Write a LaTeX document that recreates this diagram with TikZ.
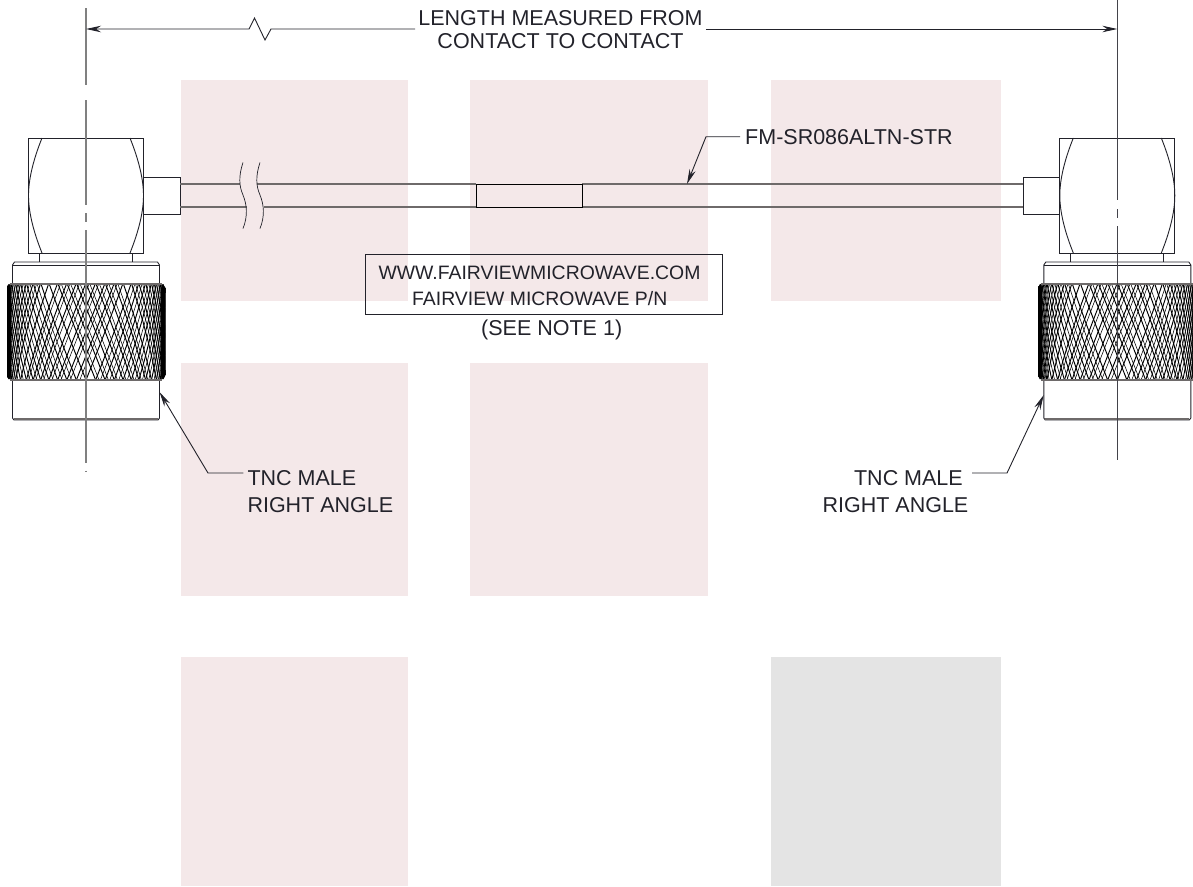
\documentclass[tikz,border=0pt]{standalone}
\usepackage{fontspec}
\setmainfont{Liberation Sans}
\usetikzlibrary{arrows.meta}
\definecolor{pinkbg}{HTML}{F4E8E9}
\definecolor{graybg}{HTML}{E4E4E4}
\definecolor{ink}{HTML}{22222A}
\definecolor{cline}{HTML}{6E6A6A}
\tikzset{
  zone/.style={fill=pinkbg,draw=none},
  outline/.style={draw=ink,line width=0.9pt},
  cableline/.style={draw=cline,line width=1.5pt},
  knurlline/.style={draw=black,line width=0.95pt},
  knurlfine/.style={draw=black,line width=0.55pt},
  leader/.style={draw=ink,line width=0.9pt},
  lead arrow/.style={leader,-{Stealth[length=15pt,width=6.5pt]}},
  label/.style={inner sep=0pt,text=ink,font=\fontsize{21.5}{23}\selectfont,anchor=base},
  boxlabel/.style={label,font=\fontsize{19.4}{21}\selectfont},
}
\newcommand{\connbody}[1]{%
\begin{scope}[xshift=#1pt]
  % housing
  \draw[outline] (-57.5,138) rectangle (57.5,253);
  \draw[outline] (-44,138) .. controls (-52,158) and (-57.5,178) .. (-57.5,195.5) .. controls (-57.5,213) and (-52,233) .. (-44,253);
  \draw[outline] (44,138) .. controls (52,158) and (57.5,178) .. (57.5,195.5) .. controls (57.5,213) and (52,233) .. (44,253);
  \draw[outline] (-46.5,253) -- (-46.5,262);
  \draw[outline] (46.5,253) -- (46.5,262);
  % flange
  \draw[outline] (-73.5,283) -- (-73.5,265) -- (-71.5,262) -- (71.5,262) -- (73.5,265) -- (73.5,283);
  \draw[outline] (-73.5,265) -- (73.5,265);
  % lower sleeve
  \draw[outline] (-73.5,380) -- (-73.5,418) -- (-72,420) -- (72,420) -- (73.5,418) -- (73.5,380);
  \draw[draw=cline,line width=1.8pt] (-72,419) -- (72,419);
  % knurl
  \begin{scope}
    \clip[rounded corners=5pt] (-79,283) rectangle (79,380);
    \foreach \p in {-119,-112,...,119} {
      \draw[knurlline] plot[domain=0:1,samples=6] ({79*sin(max(-90,min(90,\p+28*\x)))},{283+97*\x});
      \draw[knurlline] plot[domain=0:1,samples=6] ({79*sin(max(-90,min(90,\p-28*\x)))},{283+97*\x});
    }
    \foreach \p in {-22,-15,...,22} {
      \draw[knurlfine] plot[domain=0:1,samples=6] ({79*sin(\p+3.5+28*\x)},{283+97*\x});
      \draw[knurlfine] plot[domain=0:1,samples=6] ({79*sin(\p+3.5-28*\x)},{283+97*\x});
    }
    \foreach \p in {35,42,...,119} {
      \draw[knurlfine] plot[domain=0:1,samples=6] ({79*sin(max(-90,min(90,\p+3.5+28*\x)))},{283+97*\x});
      \draw[knurlfine] plot[domain=0:1,samples=6] ({79*sin(max(-90,min(90,\p+3.5-28*\x)))},{283+97*\x});
      \draw[knurlfine] plot[domain=0:1,samples=6] ({-79*sin(max(-90,min(90,\p+3.5+28*\x)))},{283+97*\x});
      \draw[knurlfine] plot[domain=0:1,samples=6] ({-79*sin(max(-90,min(90,\p+3.5-28*\x)))},{283+97*\x});
    }
  \end{scope}
  \draw[draw=cline,line width=1.6pt] (-76,284) -- (76,284);
  \draw[draw=cline,line width=1.4pt] (-76,380) -- (76,380);
  \fill[black,rounded corners=3pt] (-79,285) rectangle (-75,379);
  \fill[black,rounded corners=3pt] (75,285) rectangle (79,379);
\end{scope}}
\begin{document}
\begin{tikzpicture}[x=1pt,y=-1pt]
\useasboundingbox (0,0) rectangle (1193,886);
% background zones
\fill[zone] (181,80) rectangle (408,301);
\fill[zone] (470,80) rectangle (708,301);
\fill[zone] (771,80) rectangle (1001,301);
\fill[zone] (181,363) rectangle (408,596);
\fill[zone] (470,363) rectangle (708,596);
\fill[zone] (181,657) rectangle (408,886);
\fill[graybg] (771,657) rectangle (1001,886);

% connectors
\connbody{86}
\connbody{1117.3}

% stubs
\draw[outline] (143.5,177) -- (180,177) -- (180,214) -- (143.5,214);
\draw[outline] (1059.8,177) -- (1023,177) -- (1023,214) -- (1059.8,214);

% cable
\draw[cableline,line width=1.1pt] (180,184) -- (240,184);
\draw[cableline] (180,207) -- (246.5,207);
\draw[cableline,line width=1.1pt] (257,184) -- (476,184);
\draw[cableline] (263.5,207) -- (476,207);
\draw[cableline,line width=1.1pt] (582,184) -- (1023,184);
\draw[cableline] (582,207) -- (1023,207);
\draw[draw=black,line width=1pt] (476,184) rectangle (582,207);
\foreach \d in {0,17}{
  \draw[outline,line width=0.7pt,xshift=\d pt] (243,162.5) .. controls (238.5,176) and (239,186) .. (243,195) .. controls (247,205) and (248,216) .. (243,228.5);
}

% centre lines
\foreach \a/\b in {8/85,100/205,213/222,230/463,470.5/471.5}{
  \draw[draw=gray,line width=1.4pt] (86,\a) -- (86,\b);
}
\foreach \a/\b in {0/200,209/218,226/460}{
  \draw[draw=ink!85!white,line width=1pt] (1117.3,\a) -- (1117.3,\b);
}

% texts
\node[label] (len1) at (560.5,25) {LENGTH MEASURED FROM};
\node[label] (len2) at (560.5,48) {CONTACT TO CONTACT};
\node[label,anchor=base west] (cab) at (745,144.5) {FM-SR086ALTN-STR};
\node[boxlabel] (www) at (539.5,279.3) {WWW.FAIRVIEWMICROWAVE.COM};
\node[boxlabel] (pn) at (539.7,305.7) {FAIRVIEW MICROWAVE P/N};
\node[label] (note) at (551.7,335) {(SEE NOTE 1)};
\node[label,anchor=base west] (tl1) at (247.3,485) {TNC MALE};
\node[label,anchor=base west] (tl2) at (247.3,512.7) {RIGHT ANGLE};
\node[label,anchor=base east] (tr1) at (963,485) {TNC MALE};
\node[label,anchor=base east] (tr2) at (968.5,512.7) {RIGHT ANGLE};

% label box
\draw[outline] (365.7,254.3) rectangle (722.7,314);

% dimension line
\coordinate (dimL) at (86,29);
\coordinate (dimR) at (1117.3,29);
\draw[leader,{Stealth[length=15pt,width=6.5pt]}-] (dimL) -- (249,29) -- (254.5,18) -- (265,40) -- (271,29) -- ([xshift=-3pt]len1.west |- dimL);
\draw[leader,-{Stealth[length=15pt,width=6.5pt]}] ([xshift=3pt]len1.east |- dimR) -- (dimR);

% leaders
\coordinate (cabTip) at (687,184);
\coordinate (lTip) at (159.5,392);
\coordinate (rTip) at (1043.7,395);
\draw[lead arrow] ([xshift=-5pt]cab.west |- 0,136.7) -- (706,136.7) -- (cabTip);
\draw[lead arrow] ([xshift=-4pt]tl1.west |- 0,473) -- (208,473) -- (lTip);
\draw[lead arrow] ([xshift=9pt]tr1.east |- 0,473) -- (1007,473) -- (rTip);
\end{tikzpicture}
\end{document}
